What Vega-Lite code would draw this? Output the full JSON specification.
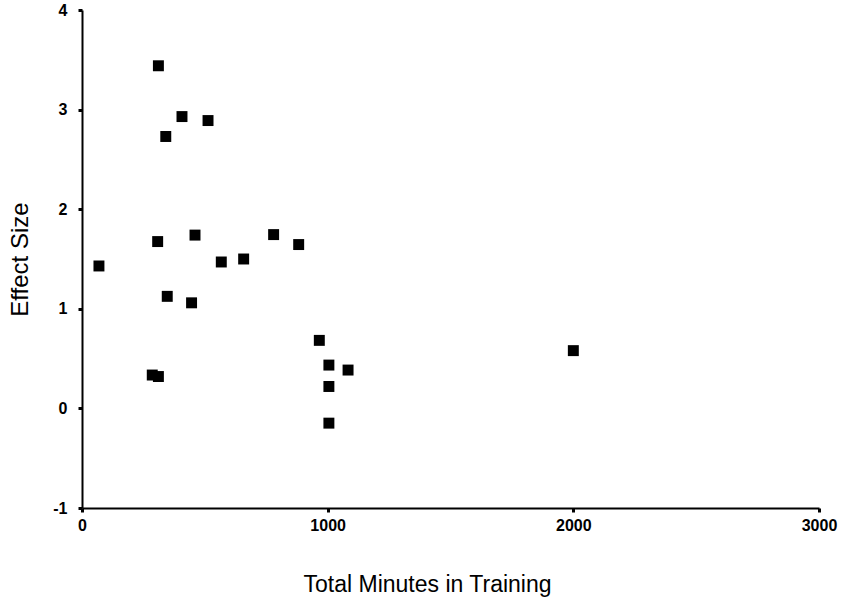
{
  "$schema": "https://vega.github.io/schema/vega-lite/v6.json",
  "autosize": "none",
  "width": 737,
  "height": 498,
  "padding": {"left": 82, "top": 10, "right": 24, "bottom": 94},
  "background": "white",
  "config": {
    "view": {"stroke": null},
    "font": "Liberation Sans"
  },
  "data": {
    "values": [
      {"minutes": 69, "effect": 1.43},
      {"minutes": 311, "effect": 3.44},
      {"minutes": 341, "effect": 2.73},
      {"minutes": 407, "effect": 2.93},
      {"minutes": 513, "effect": 2.89},
      {"minutes": 308, "effect": 1.675},
      {"minutes": 460, "effect": 1.74},
      {"minutes": 567, "effect": 1.47},
      {"minutes": 658, "effect": 1.5},
      {"minutes": 780, "effect": 1.745},
      {"minutes": 882, "effect": 1.645},
      {"minutes": 347, "effect": 1.125},
      {"minutes": 446, "effect": 1.06},
      {"minutes": 286, "effect": 0.335},
      {"minutes": 311, "effect": 0.32},
      {"minutes": 966, "effect": 0.683},
      {"minutes": 1005, "effect": 0.435},
      {"minutes": 1083, "effect": 0.385},
      {"minutes": 1005, "effect": 0.22},
      {"minutes": 1005, "effect": -0.148},
      {"minutes": 2000, "effect": 0.58}
    ]
  },
  "mark": {"type": "point", "shape": "square", "filled": true, "color": "black", "opacity": 1, "size": 120},
  "encoding": {
    "x": {
      "field": "minutes",
      "type": "quantitative",
      "scale": {"domain": [0, 3000], "nice": false, "zero": false},
      "axis": {
        "values": [0, 1000, 2000, 3000],
        "labelExpr": "toString(datum.value)",
        "title": "Total Minutes in Training",
        "grid": false,
        "domainColor": "black",
        "domainWidth": 2,
        "tickColor": "black",
        "tickWidth": 3,
        "tickSize": 4,
        "labelFontSize": 16,
        "labelFontWeight": "bold",
        "labelColor": "black",
        "labelPadding": 5,
        "labelFlush": false,
        "titleFontSize": 23,
        "titleFontWeight": "normal",
        "titleColor": "black",
        "titleX": 345,
        "titleY": 83,
        "titleAlign": "center",
        "titleBaseline": "alphabetic"
      }
    },
    "y": {
      "field": "effect",
      "type": "quantitative",
      "scale": {"domain": [-1, 4], "nice": false, "zero": false},
      "axis": {
        "values": [-1, 0, 1, 2, 3, 4],
        "labelExpr": "toString(datum.value)",
        "title": "Effect Size",
        "grid": false,
        "domainColor": "black",
        "domainWidth": 2,
        "tickColor": "black",
        "tickWidth": 3,
        "tickSize": 4,
        "labelFontSize": 16,
        "labelFontWeight": "bold",
        "labelColor": "black",
        "labelPadding": 11,
        "labelFlush": false,
        "titleFontSize": 24,
        "titleFontWeight": "normal",
        "titleColor": "black",
        "titleX": -55,
        "titleY": 249,
        "titleBaseline": "alphabetic",
        "titleAlign": "center",
        "titleAngle": -90
      }
    }
  }
}
